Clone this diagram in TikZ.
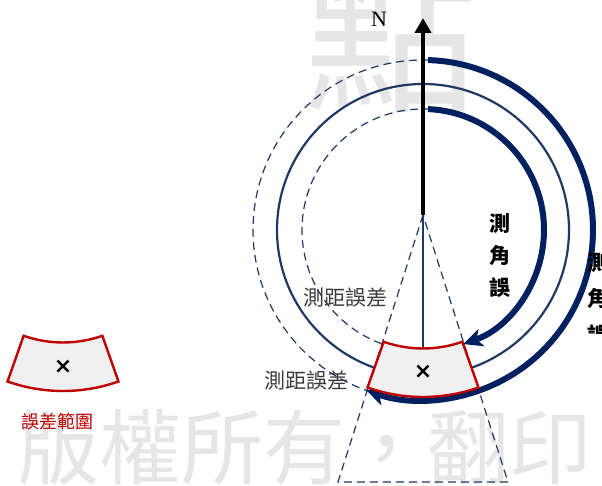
\documentclass[tikz,border=0pt]{standalone}
\usepackage{fontspec}
\setmainfont{Liberation Serif}
\newfontfamily\cjk{Noto Sans CJK TC}
\newfontfamily\dejavu{DejaVu Sans}
\usetikzlibrary{arrows.meta}
\definecolor{navy}{HTML}{002060}
\definecolor{navyline}{HTML}{1F3864}
\definecolor{wm}{HTML}{E6E6E6}
\definecolor{errred}{HTML}{C00000}
\definecolor{secfill}{HTML}{F0F0F0}
\definecolor{lbl}{HTML}{3C3C3C}
\tikzset{
  dashline/.style={draw=navyline, line width=1.2pt, dash pattern=on 8pt off 5pt},
  ringline/.style={draw=navyline, line width=2.2pt},
  bigarrow/.style={draw=navy, line width=6pt, -{Stealth[length=19pt,width=18pt,inset=5pt]}},
  errsector/.style={draw=errred, line width=2.4pt, fill=secfill, line join=miter},
  wmark/.style={text=wm, inner sep=0pt},
  lbltext/.style={text=lbl, inner sep=0pt, font=\cjk\fontsize{21}{21}\selectfont},
  angtext/.style={inner sep=0pt, align=center, font=\cjk\bfseries\fontsize{21}{32}\selectfont},
  angtextb/.style={inner sep=0pt, align=center, font=\cjk\bfseries\fontsize{21}{36}\selectfont},
  xmark/.style={inner sep=0pt, font=\dejavu\bfseries\fontsize{22}{22}\selectfont},
  redlbl/.style={text=errred, inner sep=0pt, font=\cjk\fontsize{18}{18}\selectfont}
}
\begin{document}
\begin{tikzpicture}[x=1pt,y=1pt]
\useasboundingbox (0,0) rectangle (602,485);
% watermarks
\begin{scope}
\clip (0,0) rectangle (602,485);
\node[wmark, anchor=base west, font=\cjk\fontsize{82}{82}\selectfont] (wm1) at (17,7) {版權所有，翻印};
\node[wmark, anchor=base, font=\cjk\fontsize{175}{175}\selectfont] (wm2) at (391,386) {點};
\end{scope}
% geometry
\coordinate (C) at (423,255);
\coordinate (A) at (423,270);
\coordinate (BL) at (338,3);
\coordinate (BR) at (508,3);
\coordinate (Ntip) at (423,467);
\coordinate (sectop) at (423,136.5);
% dashed triangle
\draw[dashline] (A) -- (BL) -- (BR) -- cycle;
% circles
\draw[dashline] (C) circle[radius=170];
\draw[dashline] (C) circle[radius=121];
\draw[ringline] (C) circle[radius=146];
% vertical line
\draw[navyline, line width=2pt] (A) -- (sectop);
% outer angle arc
\draw[bigarrow] ([shift={(C)}]88.3:170) arc[start angle=88.3, end angle=-109.5, radius=170];
% error sector
\path[errsector] ([shift={(C)}]250.6:167) arc[start angle=250.6, end angle=289.4, radius=167]
  -- ([shift={(C)}]289.4:118.5) arc[start angle=289.4, end angle=250.6, radius=118.5] -- cycle;
\node[xmark] (x1) at (423,113) {×};
% inner angle arc
\draw[bigarrow] ([shift={(C)}]87.6:121) arc[start angle=87.6, end angle=-70.5, radius=121];
% north arrow
\draw[black, line width=4pt, -{Triangle[length=15pt,width=16pt]}] (A) -- (Ntip);
\node[font=\fontsize{22}{22}\selectfont, inner sep=0pt] (N) at (379,465.5) {N};
% labels
\node[lbltext] (dist1) at (345.5,187) {測距誤差};
\node[lbltext] (dist2) at (306.5,104) {測距誤差};
\node[angtext] (ang1) at (500,229) {測\\角\\誤};
\begin{scope}
\clip (560,152) rectangle (602,245);
\node[angtextb] (ang2) at (597.5,186) {測\\角\\誤};
\end{scope}
% legend
\coordinate (C2) at (63,261);
\path[errsector] ([shift={(C2)}]250.6:167) arc[start angle=250.6, end angle=289.4, radius=167]
  -- ([shift={(C2)}]289.4:118.5) arc[start angle=289.4, end angle=250.6, radius=118.5] -- cycle;
\node[xmark] (x2) at (63,118) {×};
\node[redlbl] (lg) at (57,63) {誤差範圍};
\end{tikzpicture}
\end{document}
